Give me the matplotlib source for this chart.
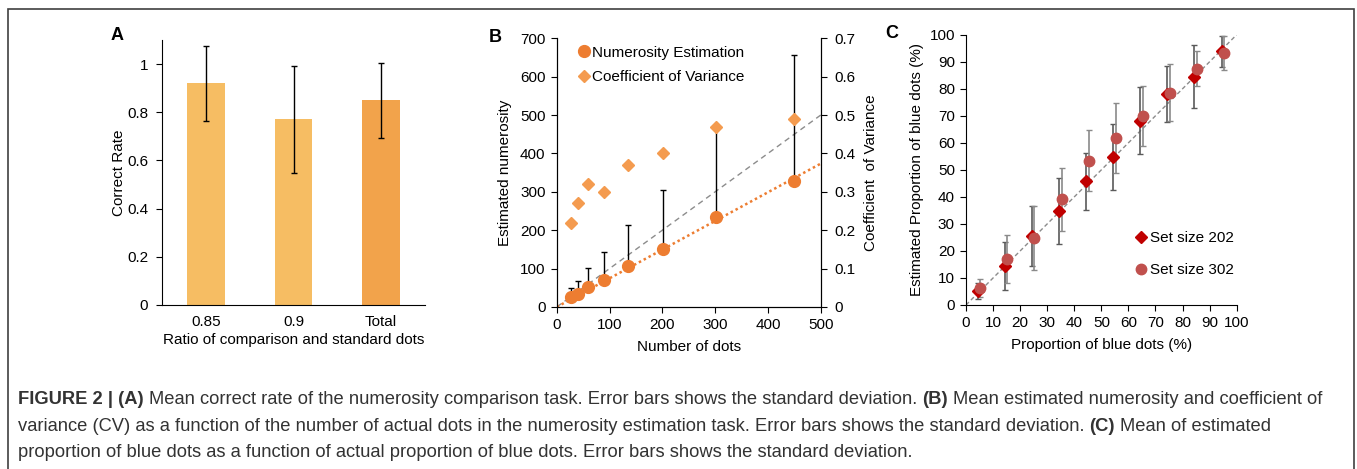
import numpy as np
import matplotlib
matplotlib.use("Agg")
import matplotlib.pyplot as plt
from matplotlib.patches import Rectangle

plt.rcParams['font.family'] = ['Liberation Sans', 'DejaVu Sans']
plt.rcParams['font.size'] = 11

# Panel A data
ratios = ["0.85", "0.9", "Total"]
correct_rate = [0.92, 0.77, 0.85]
correct_sd = [0.157, 0.222, 0.155]

# Panel B data
n_dots = [27, 40, 60, 90, 135, 202, 302, 450]
est_num = [25, 35, 51, 71, 106, 150, 234, 327]
est_sd = [25, 33, 51, 72, 108, 154, 230, 329]
cv = [0.22, 0.27, 0.32, 0.30, 0.37, 0.40, 0.47, 0.49]

# Panel C data
prop_blue = [5, 15, 25, 35, 45, 55, 65, 75, 85, 95]
est_202 = [5.2, 14.4, 25.5, 34.8, 45.7, 54.6, 68.2, 78.2, 84.5, 93.8]
sd_202 = [3.0, 9.0, 11.0, 12.2, 10.4, 12.2, 12.5, 10.4, 11.8, 5.6]
est_302 = [6.2, 17.1, 24.8, 39.1, 53.4, 61.8, 69.9, 78.5, 87.4, 93.2]
sd_302 = [3.3, 8.8, 11.9, 11.6, 11.2, 12.8, 11.0, 10.6, 6.4, 6.2]

W, H = 1357, 469
fig = plt.figure(figsize=(W / 100, H / 100), dpi=100)

def box(l, r, b, t):
    return [l / W, 1 - b / H, (r - l) / W, (b - t) / H]

# ---------- A ----------
axA = fig.add_axes(box(162, 425, 305, 40))
xA = np.arange(len(ratios))
axA.bar(xA, correct_rate, width=0.43, color=['#F6BD63', '#F6BD63', '#F2A34B'], zorder=1)
axA.errorbar(xA, correct_rate, yerr=correct_sd, fmt='none', ecolor='black',
             elinewidth=1, capsize=2, capthick=1, zorder=2)
axA.set_xlim(-0.5, 2.5)
axA.set_ylim(0, 1.1)
axA.set_yticks([0, 0.2, 0.4, 0.6, 0.8, 1.0])
axA.set_yticklabels(["0", "0.2", "0.4", "0.6", "0.8", "1"])
axA.set_xticks(xA)
axA.set_xticklabels(ratios)
axA.tick_params(axis='x', length=0, pad=7)
axA.tick_params(axis='y', length=4, pad=6)
axA.spines[['top', 'right']].set_visible(False)
axA.set_ylabel("Correct Rate", labelpad=1)
axA.set_xlabel("Ratio of comparison and standard dots", labelpad=3)

# ---------- B ----------
axB = fig.add_axes(box(556.7, 820.7, 307, 38.3))
axB2 = axB.twinx()
axB.plot([0, 500], [0, 500], ls=(0, (4, 3)), color='#8C8C8C', lw=1, zorder=1)
slope = np.sum(np.array(n_dots) * np.array(est_num)) / np.sum(np.array(n_dots) ** 2)
xs = np.array([0, 500])
axB.plot(xs, slope * xs, ls=(0, (1, 1.2)), color='#ED7D31', lw=1.8, zorder=2)
axB.errorbar(n_dots, est_num, yerr=[np.zeros(len(est_sd)), est_sd], fmt='none',
             ecolor='black', elinewidth=1, capsize=2.5, capthick=1, zorder=3)
h1, = axB.plot(n_dots, est_num, 'o', color='#ED7D31', ms=8.5, zorder=4,
               label="Numerosity Estimation")
h2, = axB2.plot(n_dots, cv, 'D', color='#F49B4F', ms=6, label="Coefficient of Variance")
axB.set_xlim(0, 500)
axB.set_ylim(0, 700)
axB2.set_ylim(0, 0.7)
axB.set_xticks(range(0, 501, 100))
axB.set_yticks(range(0, 701, 100))
axB2.set_yticks(np.arange(0, 0.71, 0.1))
axB2.set_yticklabels(["0", "0.1", "0.2", "0.3", "0.4", "0.5", "0.6", "0.7"])
axB.spines['top'].set_visible(False)
axB2.spines['top'].set_visible(False)
axB.tick_params(length=4, pad=4)
axB2.tick_params(length=4, pad=6)
axB.set_xlabel("Number of dots", labelpad=6)
axB.set_ylabel("Estimated numerosity", labelpad=6)
axB2.set_ylabel("Coefficient  of Variance", labelpad=6)
axB2.legend(handles=[h1, h2], loc='upper left', bbox_to_anchor=(0.06, 0.995),
            frameon=False, handlelength=0.7, handletextpad=0.2, labelspacing=0.7,
            borderaxespad=0)

# ---------- C ----------
axC = fig.add_axes(box(966, 1236.7, 305, 34.7))
axC.plot([0, 100], [0, 100], ls=(0, (3, 2)), color='#8C8C8C', lw=1, zorder=1)
xc = np.array(prop_blue)
axC.errorbar(xc - 0.6, est_202, yerr=sd_202, fmt='none', ecolor='#5A5A5A',
             elinewidth=1.2, capsize=2, capthick=1, zorder=2)
axC.errorbar(xc + 0.3, est_302, yerr=sd_302, fmt='none', ecolor='#8A8A8A',
             elinewidth=1.2, capsize=2, capthick=1, zorder=2)
axC.plot(xc - 0.6, est_202, 'D', color='#C00000', ms=6, zorder=3, label="Set size 202")
axC.plot(xc + 0.3, est_302, 'o', color='#C0504D', ms=7.5, zorder=4, label="Set size 302")
axC.set_xlim(0, 100)
axC.set_ylim(0, 100)
axC.set_xticks(range(0, 101, 10))
axC.set_yticks(range(0, 101, 10))
axC.spines[['top', 'right']].set_visible(False)
axC.tick_params(length=4, pad=4)
axC.set_xlabel("Proportion of blue dots (%)", labelpad=6)
axC.set_ylabel("Estimated Proportion of blue dots (%)", labelpad=4)
axC.legend(loc='lower left', bbox_to_anchor=(0.605, 0.08), frameon=False,
           handlelength=0.7, handletextpad=0.25, labelspacing=1.2, borderaxespad=0)

# panel letters
for lab, px, py in [("A", 117, 35), ("B", 495, 37), ("C", 892, 34)]:
    fig.text(px / W, 1 - py / H, lab, fontsize=13, fontweight='bold', ha='center', va='center')

# frame
fig.patches.append(Rectangle((8 / W, -0.05), (1354 - 8) / W, 1.05 - 9 / H,
                             transform=fig.transFigure, fill=False,
                             edgecolor='#404040', lw=1.2))

# caption with bold runs
caption = [
    [("FIGURE 2 | (A)", True), (" Mean correct rate of the numerosity comparison task. Error bars shows the standard deviation. ", False),
     ("(B)", True), (" Mean estimated numerosity and coefficient of", False)],
    [("variance (CV) as a function of the number of actual dots in the numerosity estimation task. Error bars shows the standard deviation. ", False),
     ("(C)", True), (" Mean of estimated", False)],
    [("proportion of blue dots as a function of actual proportion of blue dots. Error bars shows the standard deviation.", False)],
]
renderer = fig.canvas.get_renderer()
cap_fs = 13.2
t0 = fig.text(0, 0, "a a", fontsize=cap_fs)
t1 = fig.text(0, 0, "aa", fontsize=cap_fs)
sp = t0.get_window_extent(renderer).width - t1.get_window_extent(renderer).width
t0.remove()
t1.remove()
for i, line in enumerate(caption):
    x = 18
    y = 1 - (400 + i * 26) / H
    for seg, bold in line:
        lead = len(seg) - len(seg.lstrip(' '))
        trail = len(seg) - len(seg.rstrip(' '))
        x += lead * sp
        t = fig.text(x / W, y, seg.strip(' '), fontsize=cap_fs, color='#333333',
                     fontweight='bold' if bold else 'normal', va='center')
        x = t.get_window_extent(renderer).x1 + trail * sp

fig.savefig("out.png", dpi=100)
